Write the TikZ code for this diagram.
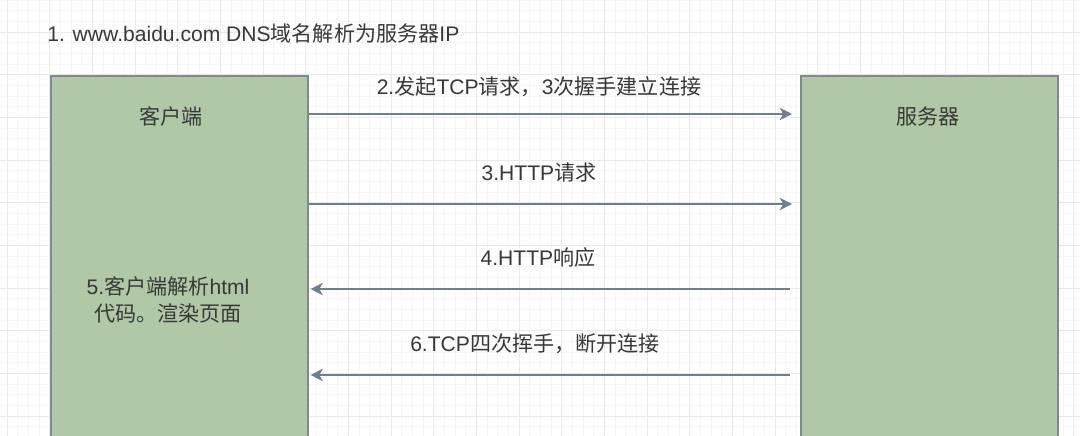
\documentclass[tikz,border=0pt]{standalone}
\usepackage{fontspec}
\setmainfont{Liberation Sans}
\newfontfamily\cjk{Noto Sans CJK SC}
\usetikzlibrary{arrows.meta}
\definecolor{sage}{HTML}{B0C8A6}
\definecolor{boxgray}{HTML}{7E8A8E}
\definecolor{arrowblue}{HTML}{6C7F94}
\definecolor{inkgray}{HTML}{383838}
\begin{document}
\begin{tikzpicture}[
        x=0.02cm, y=-0.02cm,
        font=\fontsize{12}{15}\selectfont,
        every node/.style={text=inkgray},
        host/.style={draw=boxgray, fill=sage, line width=0.9pt, anchor=north west, minimum width=5.14cm, minimum height=7.6cm},
        msg/.style={-{Stealth[length=7pt, width=7pt, inset=2pt]}, draw=arrowblue, line width=0.9pt},
        minorgrid/.style={draw=gray!7, line width=0.3pt},
        majorgrid/.style={draw=gray!17, line width=0.4pt}
    ]
        \useasboundingbox (0,0) rectangle (1080,436);
        \fill[white] (0,0) rectangle (1080,436);

        % Background grid
        \foreach \k in {-1,...,100} {
            \draw[minorgrid] ({7+\k*10.667},0) -- ++(0,436);
        }
        \foreach \k in {-3,...,38} {
            \draw[minorgrid] (0,{32+\k*10.667}) -- ++(1080,0);
        }
        \foreach \k in {0,...,25} {
            \draw[majorgrid] ({7+\k*42.667},0) -- ++(0,436);
        }
        \foreach \k in {-1,...,10} {
            \draw[majorgrid] (0,{32+\k*42.667}) -- ++(1080,0);
        }

        \node[anchor=west, inner sep=0] (title) at (47,33) {1. www.baidu.com DNS{\cjk 域名解析为服务器}IP};

        % Client and server
        \node[host] (client) at (50,75) {};
        \node[host] (server) at (800,75) {};
        \node (client-title) at (171,116) {\cjk 客户端};
        \node (server-title) at (928,116) {\cjk 服务器};
        \node[align=center] (client-note) at (168,300) {5.{\cjk 客户端解析}html\\{\cjk 代码。渲染页面}};

        % Message lanes
        \foreach \y/\name in {114/tcp, 204/req, 289/resp, 375/fin} {
            \coordinate (lane-\name) at (0,\y);
        }
        \node (msg-tcp) at (539,87) {2.{\cjk 发起}TCP{\cjk 请求，}3{\cjk 次握手建立连接}};
        \node (msg-req) at (539,173) {3.HTTP{\cjk 请求}};
        \node (msg-resp) at (538,257) {4.HTTP{\cjk 响应}};
        \node (msg-fin) at (535,344) {6.TCP{\cjk 四次挥手，断开连接}};

        % Requests and responses
        \draw[msg, shorten >=0.16cm] (client.east |- lane-tcp) -- (server.west |- lane-tcp);
        \draw[msg, shorten >=0.16cm] (client.east |- lane-req) -- (server.west |- lane-req);
        \draw[msg, shorten <=0.2cm, shorten >=0.04cm] (server.west |- lane-resp) -- (client.east |- lane-resp);
        \draw[msg, shorten <=0.2cm, shorten >=0.04cm] (server.west |- lane-fin) -- (client.east |- lane-fin);
    \end{tikzpicture}
\end{document}
